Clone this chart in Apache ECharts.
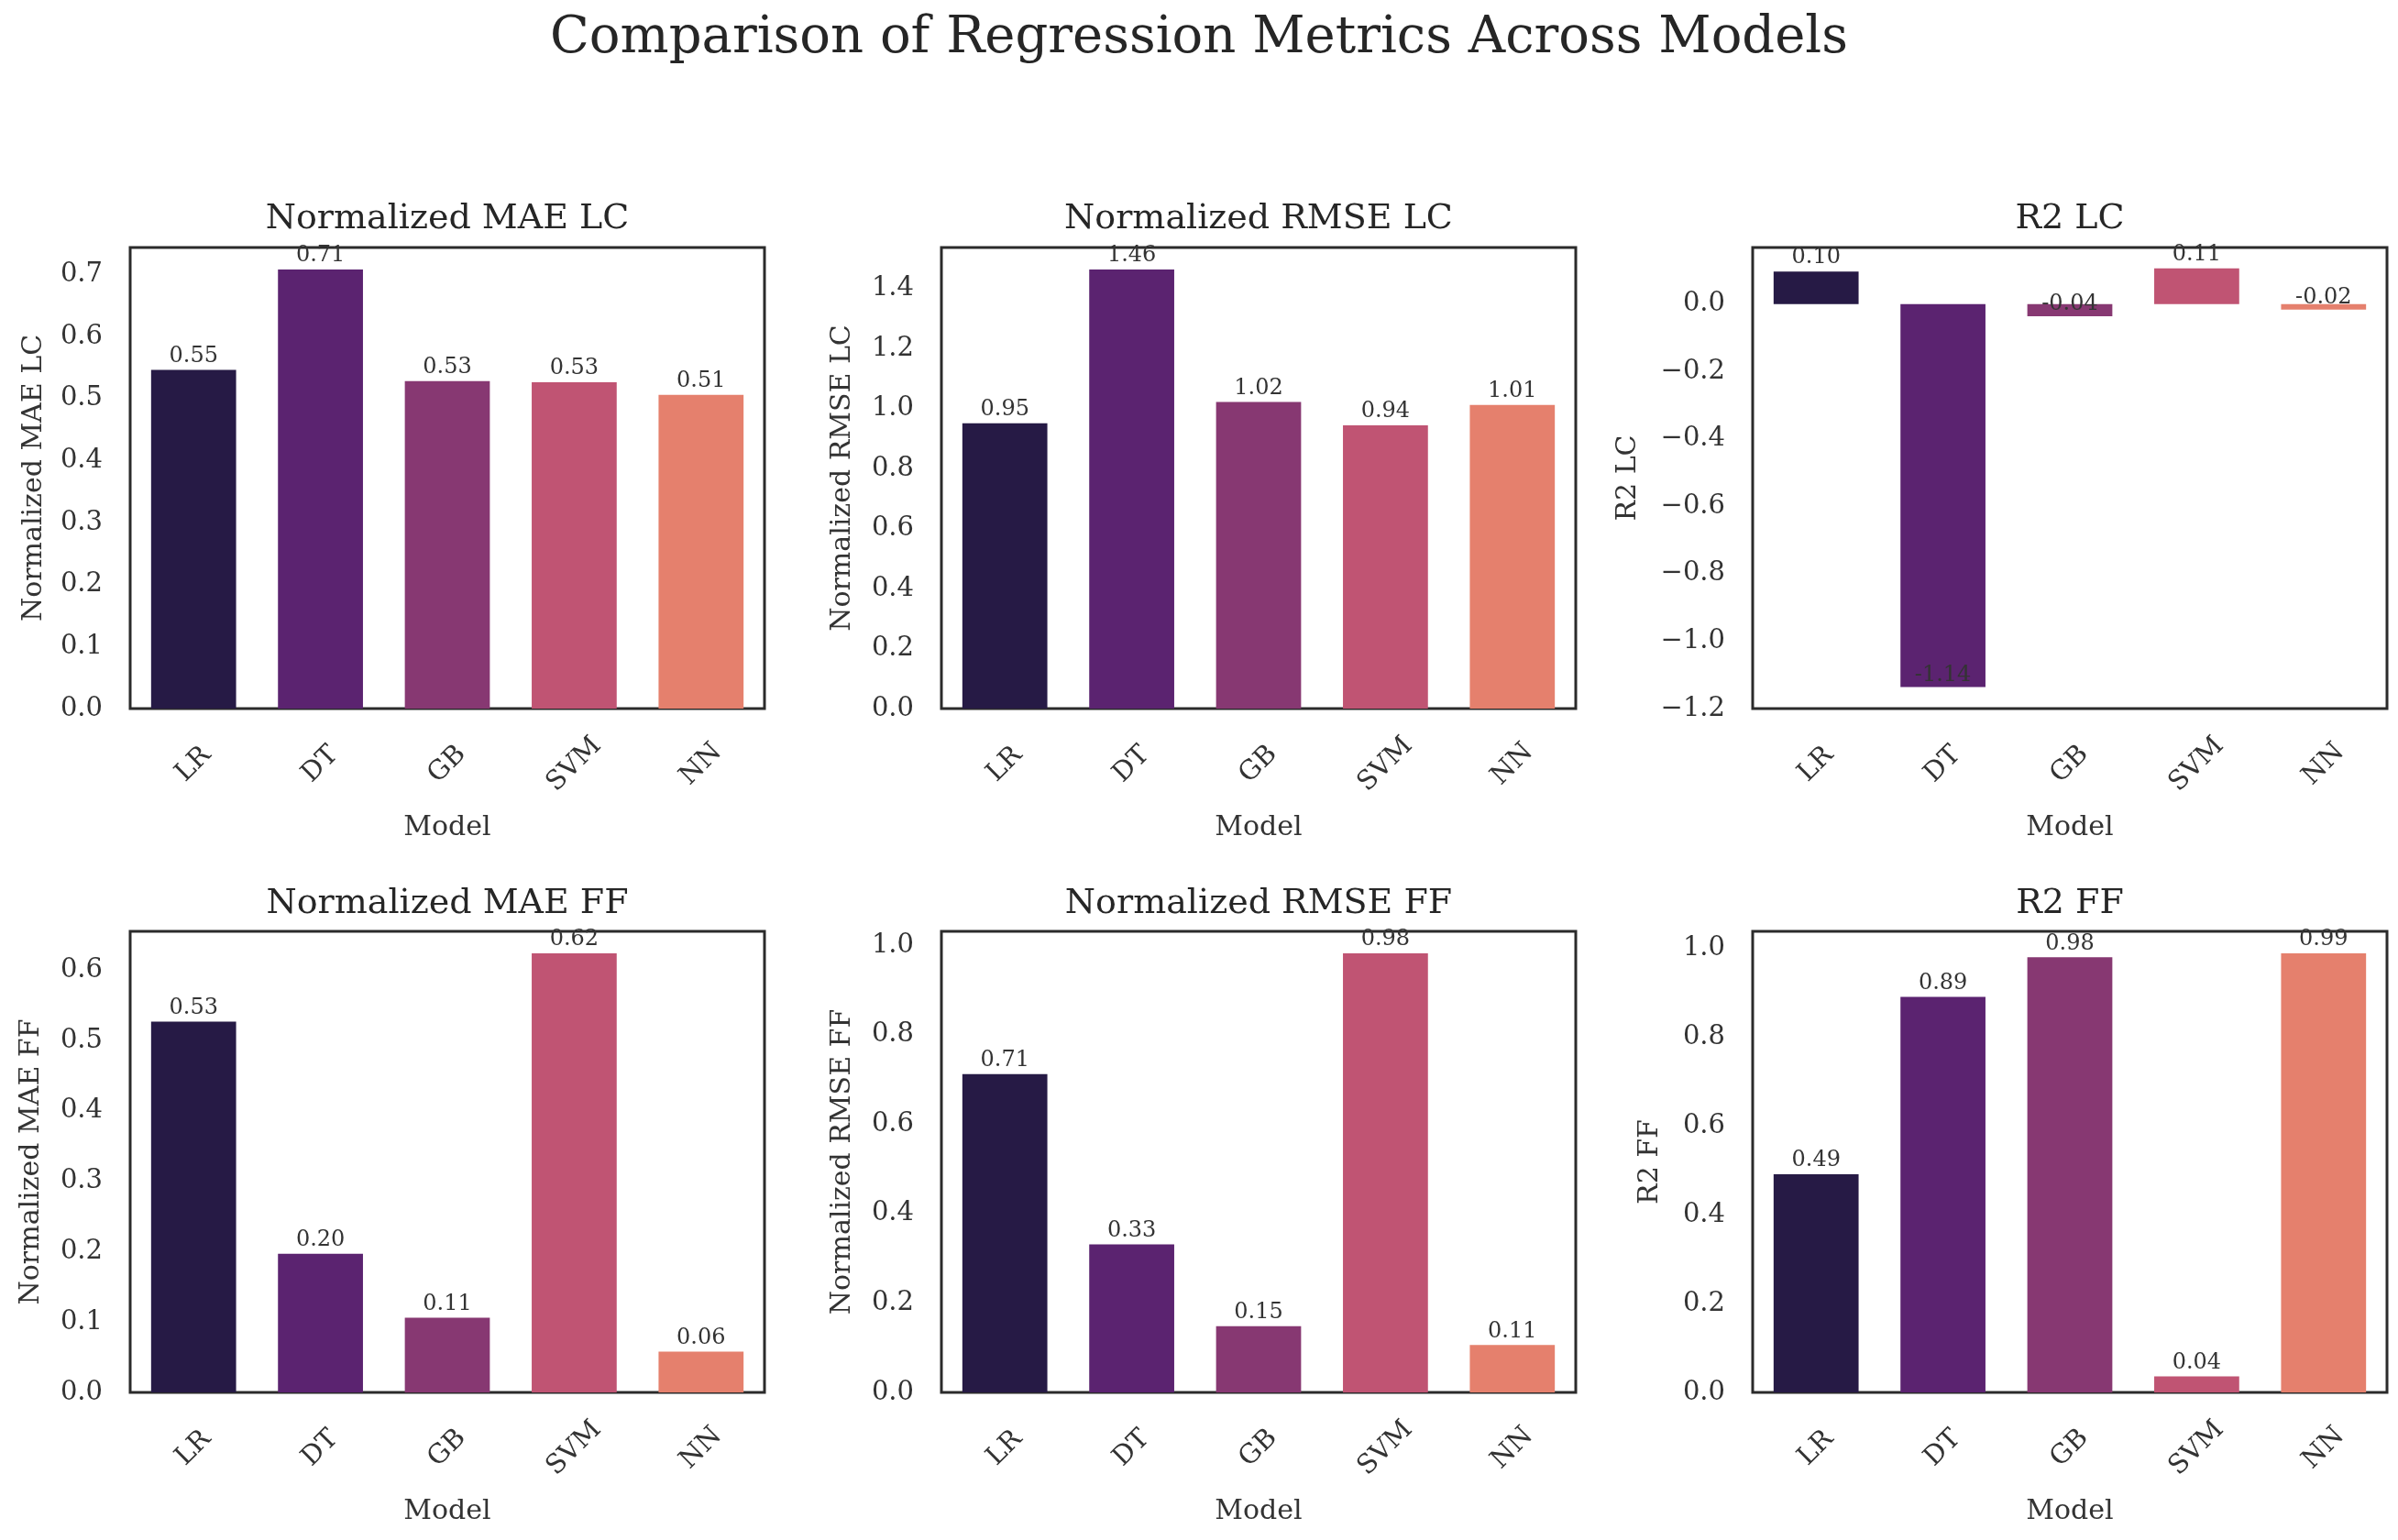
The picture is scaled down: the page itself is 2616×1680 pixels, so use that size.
<!DOCTYPE html>
<html>
<head>
<meta charset="utf-8">
<style>
  html, body { margin: 0; padding: 0; background: #ffffff; }
  #chart { width: 2616px; height: 1680px; }
</style>
<script src="https://cdn.jsdelivr.net/npm/echarts@6/dist/echarts.min.js"></script>
</head>
<body>
<div id="chart"></div>
<script>
// ---- data ----
const categories = ['LR', 'DT', 'GB', 'SVM', 'NN'];
const barColors = ['#261a45', '#5b2370', '#873872', '#c05473', '#e5806d'];

const maeLC  = [0.546, 0.708, 0.528, 0.526, 0.506];
const rmseLC = [0.951, 1.464, 1.022, 0.944, 1.012];
const r2LC   = [0.097, -1.136, -0.036, 0.106, -0.016];
const maeFF  = [0.527, 0.197, 0.106, 0.624, 0.058];
const rmseFF = [0.712, 0.331, 0.148, 0.982, 0.106];
const r2FF   = [0.491, 0.890, 0.979, 0.036, 0.988];

const mainTitle = 'Comparison of Regression Metrics Across Models';
const panelTitles = ['Normalized MAE LC', 'Normalized RMSE LC', 'R2 LC',
                     'Normalized MAE FF', 'Normalized RMSE FF', 'R2 FF'];
const yNames = ['Normalized MAE LC', 'Normalized RMSE LC', 'R2 LC',
                'Normalized MAE FF', 'Normalized RMSE FF', 'R2 FF'];
const xName = 'Model';
const tickIntervals = [0.1, 0.2, 0.2, 0.1, 0.2, 0.2];
const panelData = [maeLC, rmseLC, r2LC, maeFF, rmseFF, r2FF];

// ---- layout ----
const FONT = "'DejaVu Serif', 'Liberation Serif', serif";
const TXT = '#333333';
const colLeft = [142, 1027, 1912];
const gridW = 692;
const rowTop = [270, 1016];
const gridH = 503;
const titleY = [239, 986];
const yNameGap = [90, 93, 121, 93, 93, 97];

const grids = [], xAxes = [], yAxes = [], series = [], titles = [];

titles.push({
  text: mainTitle, left: 1308, top: 42, padding: 0,
  textAlign: 'center', textVerticalAlign: 'middle',
  textStyle: { fontFamily: FONT, fontSize: 56, fontWeight: 'normal', color: '#262626' }
});

panelData.forEach((vals, i) => {
  const r = Math.floor(i / 3), c = i % 3;
  const left = colLeft[c], top = rowTop[r];
  grids.push({
    left: left, top: top, width: gridW, height: gridH,
    show: true, borderColor: '#2b2b2b', borderWidth: 3,
    backgroundColor: 'transparent', containLabel: false, outerBoundsMode: 'none'
  });
  titles.push({
    text: panelTitles[i], left: left + gridW / 2, top: titleY[r], padding: 0,
    textAlign: 'center', textVerticalAlign: 'middle',
    textStyle: { fontFamily: FONT, fontSize: 38, fontWeight: 'normal', color: '#262626' }
  });

  // matplotlib-like auto limits (5% margin, bars stick to zero)
  const dmin = Math.min(...vals), dmax = Math.max(...vals);
  const lo = Math.min(0, dmin), hi = Math.max(0, dmax);
  const span = hi - lo;
  const iv = tickIntervals[i];
  let ymax = dmax > 0 ? hi + 0.05 * span : 0;
  let ymin = dmin < 0 ? lo - 0.05 * span : 0;
  if (ymin < 0) ymin = Math.floor(ymin / iv - 1e-9) * iv;

  xAxes.push({
    type: 'category', gridIndex: i, data: categories,
    boundaryGap: true,
    axisLine: { show: false, onZero: false },
    axisTick: { show: false },
    splitLine: { show: false },
    axisLabel: {
      rotate: 45, align: 'center', verticalAlign: 'middle', margin: 61,
      fontFamily: FONT, fontSize: 29, color: TXT, interval: 0
    },
    name: xName, nameLocation: 'middle', nameGap: 115,
    nameTextStyle: { fontFamily: FONT, fontSize: 30, color: TXT }
  });
  yAxes.push({
    type: 'value', gridIndex: i, min: ymin, max: ymax, interval: iv,
    axisLine: { show: false },
    axisTick: { show: false },
    splitLine: { show: false },
    axisLabel: {
      margin: 30, fontFamily: FONT, fontSize: 29, color: TXT,
      showMinLabel: true, showMaxLabel: true,
      formatter: function (v) {
        const k = v / iv;
        if (Math.abs(k - Math.round(k)) > 1e-6) return '';
        return (Math.round(k) * iv).toFixed(1).replace('-', '\u2212');
      }
    },
    name: yNames[i], nameLocation: 'middle', nameRotate: 90, nameGap: yNameGap[i],
    nameTextStyle: { fontFamily: FONT, fontSize: 30, color: TXT }
  });
  series.push({
    type: 'bar', xAxisIndex: i, yAxisIndex: i, barWidth: '67%',
    silent: true, animation: false,
    data: vals.map((v, j) => ({
      value: v,
      itemStyle: { color: barColors[j] },
      label: { position: v < 0 ? 'insideBottom' : 'top', distance: v < 0 ? 1 : 3 }
    })),
    label: {
      show: true, fontFamily: FONT, fontSize: 24, color: TXT,
      formatter: function (p) { return Number(p.value).toFixed(2); }
    }
  });
});

const chart = echarts.init(document.getElementById('chart'), null, { renderer: 'canvas' });
chart.setOption({
  backgroundColor: '#ffffff',
  animation: false,
  textStyle: { fontFamily: FONT },
  title: titles,
  grid: grids,
  xAxis: xAxes,
  yAxis: yAxes,
  series: series
});
</script>
</body>
</html>
